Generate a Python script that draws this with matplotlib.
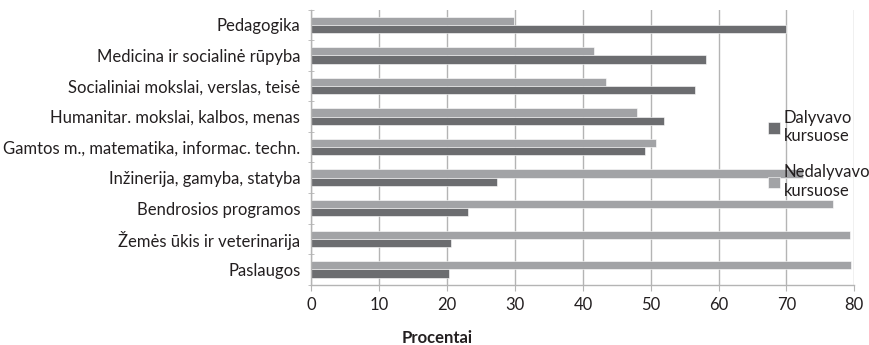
import matplotlib
matplotlib.use('Agg')
import matplotlib.pyplot as plt
import numpy as np

plt.rcParams['font.family'] = ['Lato', 'DejaVu Sans']

categories = [
    'Pedagogika',
    'Medicina ir socialinė rūpyba',
    'Socialiniai mokslai, verslas, teisė',
    'Humanitar. mokslai, kalbos, menas',
    'Gamtos m., matematika, informac. techn.',
    'Inžinerija, gamyba, statyba',
    'Bendrosios programos',
    'Žemės ūkis ir veterinarija',
    'Paslaugos',
]
dalyvavo = [70.0, 58.1, 56.5, 51.9, 49.1, 27.4, 23.0, 20.5, 20.3]
nedalyvavo = [29.9, 41.7, 43.4, 48.0, 50.8, 72.5, 76.8, 79.3, 79.5]
xticks = [0, 10, 20, 30, 40, 50, 60, 70, 80]

dark = '#6c6d70'
light = '#a2a3a6'
grid = '#b4b4b4'
txt = '#231f20'
fs = 12

fig = plt.figure(figsize=(8.7, 3.45), dpi=100)
ax = fig.add_axes([0.358, 0.175, 0.624, 0.797])

y = np.arange(len(categories))
h = 0.27
ax.barh(y - h / 2, nedalyvavo, height=h, color=light, edgecolor='white', linewidth=0.4,
        label='Nedalyvavo\nkursuose', zorder=2)
ax.barh(y + h / 2, dalyvavo, height=h, color=dark, edgecolor='white', linewidth=0.4,
        label='Dalyvavo\nkursuose', zorder=2)

ax.set_xlim(0, 80)
ax.set_ylim(len(categories) - 0.5, -0.5)
ax.set_xticks(xticks)
ax.set_xticklabels([str(v) for v in xticks], fontsize=fs, color=txt)
ax.set_yticks(y)
ax.set_yticklabels(categories, fontsize=fs, color=txt)
ax.set_yticks(np.arange(len(categories) + 1) - 0.5, minor=True)

ax.xaxis.grid(True, color=grid, linewidth=1.0, zorder=0)
ax.set_axisbelow(True)
for side in ['top', 'right']:
    ax.spines[side].set_visible(False)
for side in ['left', 'bottom']:
    ax.spines[side].set_color(grid)
    ax.spines[side].set_linewidth(1.0)
ax.tick_params(axis='x', length=4, color=grid, pad=5)
ax.tick_params(axis='y', which='major', length=0, pad=8)
ax.tick_params(axis='y', which='minor', length=4, color=grid, direction='inout')

ax.set_xlabel('Procentai', fontsize=fs, fontweight='bold', color=txt)
ax.xaxis.set_label_coords(0.232, -0.165)

handles, labels = ax.get_legend_handles_labels()
leg = fig.legend(handles[::-1], labels[::-1], loc='upper left', bbox_to_anchor=(0.866, 0.725),
                 frameon=False, fontsize=fs, handlelength=0.7, handleheight=0.7,
                 handletextpad=0.2, labelspacing=1.2)
for t in leg.get_texts():
    t.set_color(txt)

fig.savefig('out.png', dpi=100)
